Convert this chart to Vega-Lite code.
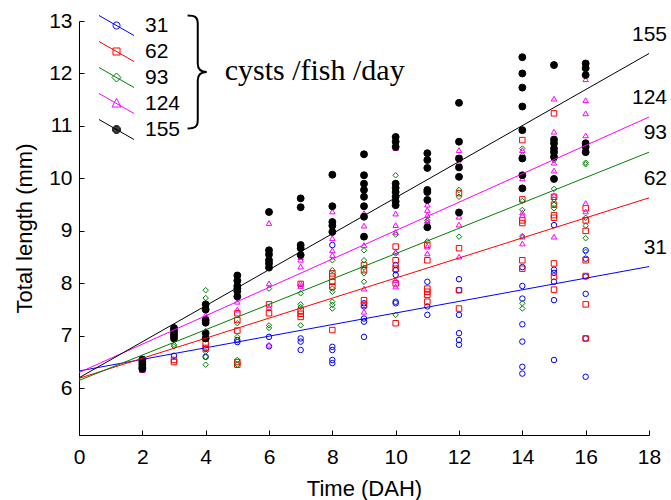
{
  "$schema": "https://vega.github.io/schema/vega-lite/v6.json",
  "width": 570,
  "height": 414,
  "autosize": "none",
  "padding": {"left": 79, "top": 21, "right": 22, "bottom": 65},
  "background": "white",
  "config": {
    "view": {"stroke": null},
    "font": "Liberation Sans",
    "axis": {
      "grid": false,
      "domainColor": "black",
      "tickColor": "black",
      "labelColor": "black",
      "titleColor": "black",
      "labelFont": "Liberation Sans",
      "titleFont": "Liberation Sans",
      "labelFontSize": 21,
      "titleFontSize": 22,
      "titleFontWeight": "normal",
      "tickSize": -5,
      "domainWidth": 1,
      "tickWidth": 1
    }
  },
  "datasets": {
    "fits": [
      {"day": 0, "len": 6.33, "group": "31"}, {"day": 18, "len": 8.32, "group": "31"},
      {"day": 0, "len": 6.19, "group": "62"}, {"day": 18, "len": 9.63, "group": "62"},
      {"day": 0, "len": 6.15, "group": "93"}, {"day": 18, "len": 10.5, "group": "93"},
      {"day": 0, "len": 6.30, "group": "124"}, {"day": 18, "len": 11.17, "group": "124"},
      {"day": 0, "len": 6.20, "group": "155"}, {"day": 18, "len": 12.38, "group": "155"}
    ],
    "pts": [
      {"day":2,"len":6.38,"group":"31"},
      {"day":3,"len":6.62,"group":"31"},
      {"day":4,"len":6.6,"group":"31"},{"day":4,"len":6.75,"group":"31"},
      {"day":5,"len":6.92,"group":"31"},{"day":5,"len":6.88,"group":"31"},
      {"day":6,"len":6.98,"group":"31"},{"day":6,"len":6.8,"group":"31"},
      {"day":7,"len":6.95,"group":"31"},{"day":7,"len":6.89,"group":"31"},{"day":7,"len":6.73,"group":"31"},
      {"day":8,"len":8.73,"group":"31"},{"day":8,"len":6.79,"group":"31"},{"day":8,"len":6.73,"group":"31"},{"day":8,"len":6.54,"group":"31"},{"day":8,"len":6.48,"group":"31"},
      {"day":9,"len":7.62,"group":"31"},{"day":9,"len":7.56,"group":"31"},{"day":9,"len":7.33,"group":"31"},{"day":9,"len":7.27,"group":"31"},{"day":9,"len":6.98,"group":"31"},
      {"day":10,"len":8.35,"group":"31"},{"day":10,"len":8.25,"group":"31"},{"day":10,"len":8.16,"group":"31"},{"day":10,"len":7.65,"group":"31"},{"day":10,"len":7.62,"group":"31"},
      {"day":11,"len":8.03,"group":"31"},{"day":11,"len":7.56,"group":"31"},{"day":11,"len":7.4,"group":"31"},
      {"day":12,"len":8.08,"group":"31"},{"day":12,"len":7.87,"group":"31"},{"day":12,"len":7.4,"group":"31"},{"day":12,"len":7.05,"group":"31"},{"day":12,"len":6.92,"group":"31"},{"day":12,"len":6.83,"group":"31"},
      {"day":14,"len":8.31,"group":"31"},{"day":14,"len":7.95,"group":"31"},{"day":14,"len":7.71,"group":"31"},{"day":14,"len":7.22,"group":"31"},{"day":14,"len":6.89,"group":"31"},{"day":14,"len":6.41,"group":"31"},{"day":14,"len":6.28,"group":"31"},
      {"day":15,"len":9.11,"group":"31"},{"day":15,"len":8.26,"group":"31"},{"day":15,"len":8.2,"group":"31"},{"day":15,"len":8.03,"group":"31"},{"day":15,"len":7.68,"group":"31"},{"day":15,"len":6.54,"group":"31"},
      {"day":16,"len":8.63,"group":"31"},{"day":16,"len":8.47,"group":"31"},{"day":16,"len":8.13,"group":"31"},{"day":16,"len":7.8,"group":"31"},{"day":16,"len":6.95,"group":"31"},{"day":16,"len":6.22,"group":"31"},

      {"day":2,"len":6.36,"group":"62"},{"day":2,"len":6.4,"group":"62"},
      {"day":3,"len":6.54,"group":"62"},{"day":3,"len":6.5,"group":"62"},
      {"day":4,"len":6.95,"group":"62"},{"day":4,"len":6.85,"group":"62"},{"day":4,"len":6.77,"group":"62"},
      {"day":5,"len":7.43,"group":"62"},{"day":5,"len":7.3,"group":"62"},{"day":5,"len":7.1,"group":"62"},{"day":5,"len":6.5,"group":"62"},{"day":5,"len":6.45,"group":"62"},
      {"day":6,"len":7.43,"group":"62"},{"day":6,"len":7.6,"group":"62"},
      {"day":7,"len":7.99,"group":"62"},{"day":7,"len":7.48,"group":"62"},{"day":7,"len":7.42,"group":"62"},{"day":7,"len":7.36,"group":"62"},
      {"day":8,"len":8.19,"group":"62"},{"day":8,"len":8.13,"group":"62"},{"day":8,"len":8.03,"group":"62"},{"day":8,"len":7.94,"group":"62"},{"day":8,"len":7.11,"group":"62"},
      {"day":9,"len":8.35,"group":"62"},{"day":9,"len":8.25,"group":"62"},{"day":9,"len":7.68,"group":"62"},{"day":9,"len":7.59,"group":"62"},
      {"day":10,"len":8.7,"group":"62"},{"day":10,"len":8.44,"group":"62"},{"day":10,"len":8.28,"group":"62"},{"day":10,"len":8.0,"group":"62"},{"day":10,"len":7.24,"group":"62"},
      {"day":11,"len":8.73,"group":"62"},{"day":11,"len":8.44,"group":"62"},{"day":11,"len":7.9,"group":"62"},{"day":11,"len":7.84,"group":"62"},{"day":11,"len":7.78,"group":"62"},{"day":11,"len":7.65,"group":"62"},
      {"day":12,"len":10.38,"group":"62"},{"day":12,"len":9.72,"group":"62"},{"day":12,"len":8.67,"group":"62"},{"day":12,"len":7.87,"group":"62"},{"day":12,"len":7.52,"group":"62"},
      {"day":14,"len":10.73,"group":"62"},{"day":14,"len":9.6,"group":"62"},{"day":14,"len":9.2,"group":"62"},{"day":14,"len":9.15,"group":"62"},{"day":14,"len":8.44,"group":"62"},{"day":14,"len":8.28,"group":"62"},
      {"day":15,"len":11.24,"group":"62"},{"day":15,"len":9.65,"group":"62"},{"day":15,"len":9.5,"group":"62"},{"day":15,"len":9.3,"group":"62"},{"day":15,"len":9.25,"group":"62"},{"day":15,"len":8.38,"group":"62"},{"day":15,"len":8.13,"group":"62"},{"day":15,"len":7.88,"group":"62"},
      {"day":16,"len":9.43,"group":"62"},{"day":16,"len":9.2,"group":"62"},{"day":16,"len":9.0,"group":"62"},{"day":16,"len":8.44,"group":"62"},{"day":16,"len":8.14,"group":"62"},{"day":16,"len":7.6,"group":"62"},{"day":16,"len":6.95,"group":"62"},

      {"day":2,"len":6.42,"group":"93"},{"day":2,"len":6.38,"group":"93"},
      {"day":3,"len":6.83,"group":"93"},{"day":3,"len":6.8,"group":"93"},
      {"day":4,"len":7.87,"group":"93"},{"day":4,"len":7.72,"group":"93"},{"day":4,"len":6.7,"group":"93"},{"day":4,"len":6.6,"group":"93"},{"day":4,"len":6.45,"group":"93"},
      {"day":5,"len":7.24,"group":"93"},{"day":5,"len":6.98,"group":"93"},{"day":5,"len":6.54,"group":"93"},{"day":5,"len":6.45,"group":"93"},
      {"day":6,"len":7.9,"group":"93"},{"day":6,"len":7.2,"group":"93"},{"day":6,"len":7.15,"group":"93"},
      {"day":7,"len":7.81,"group":"93"},{"day":7,"len":7.6,"group":"93"},{"day":7,"len":7.55,"group":"93"},{"day":7,"len":7.2,"group":"93"},
      {"day":8,"len":8.44,"group":"93"},{"day":8,"len":8.25,"group":"93"},{"day":8,"len":7.9,"group":"93"},{"day":8,"len":7.84,"group":"93"},{"day":8,"len":7.65,"group":"93"},{"day":8,"len":7.59,"group":"93"},{"day":8,"len":7.52,"group":"93"},
      {"day":9,"len":8.63,"group":"93"},{"day":9,"len":8.44,"group":"93"},{"day":9,"len":8.3,"group":"93"},{"day":9,"len":8.19,"group":"93"},{"day":9,"len":8.03,"group":"93"},
      {"day":10,"len":10.06,"group":"93"},{"day":10,"len":8.93,"group":"93"},{"day":10,"len":8.57,"group":"93"},{"day":10,"len":7.4,"group":"93"},
      {"day":11,"len":9.2,"group":"93"},{"day":11,"len":9.15,"group":"93"},{"day":11,"len":8.8,"group":"93"},
      {"day":12,"len":9.78,"group":"93"},{"day":12,"len":9.65,"group":"93"},{"day":12,"len":8.89,"group":"93"},
      {"day":14,"len":10.57,"group":"93"},{"day":14,"len":10.44,"group":"93"},{"day":14,"len":9.57,"group":"93"},{"day":14,"len":9.4,"group":"93"},{"day":14,"len":8.9,"group":"93"},{"day":14,"len":7.62,"group":"93"},{"day":14,"len":7.52,"group":"93"},
      {"day":15,"len":10.35,"group":"93"},{"day":15,"len":9.8,"group":"93"},{"day":15,"len":9.6,"group":"93"},{"day":15,"len":9.5,"group":"93"},{"day":15,"len":9.43,"group":"93"},
      {"day":16,"len":10.3,"group":"93"},{"day":16,"len":10.27,"group":"93"},{"day":16,"len":9.25,"group":"93"},{"day":16,"len":9.1,"group":"93"},{"day":16,"len":8.86,"group":"93"},{"day":16,"len":8.6,"group":"93"},

      {"day":2,"len":6.35,"group":"124"},{"day":2,"len":6.4,"group":"124"},
      {"day":3,"len":7.0,"group":"124"},{"day":3,"len":6.95,"group":"124"},
      {"day":4,"len":7.4,"group":"124"},{"day":4,"len":7.35,"group":"124"},{"day":4,"len":7.1,"group":"124"},
      {"day":5,"len":7.65,"group":"124"},{"day":5,"len":7.5,"group":"124"},
      {"day":6,"len":9.15,"group":"124"},{"day":6,"len":8.0,"group":"124"},{"day":6,"len":7.55,"group":"124"},{"day":6,"len":6.83,"group":"124"},
      {"day":7,"len":8.5,"group":"124"},{"day":7,"len":8.45,"group":"124"},{"day":7,"len":8.32,"group":"124"},{"day":7,"len":8.0,"group":"124"},{"day":7,"len":7.95,"group":"124"},
      {"day":8,"len":9.37,"group":"124"},{"day":8,"len":8.86,"group":"124"},{"day":8,"len":8.63,"group":"124"},{"day":8,"len":8.54,"group":"124"},
      {"day":9,"len":9.91,"group":"124"},{"day":9,"len":9.34,"group":"124"},{"day":9,"len":9.1,"group":"124"},{"day":9,"len":8.73,"group":"124"},{"day":9,"len":7.9,"group":"124"},{"day":9,"len":7.46,"group":"124"},
      {"day":10,"len":10.58,"group":"124"},{"day":10,"len":9.33,"group":"124"},{"day":10,"len":9.11,"group":"124"},{"day":10,"len":8.98,"group":"124"},{"day":10,"len":8.6,"group":"124"},{"day":10,"len":8.06,"group":"124"},{"day":10,"len":7.94,"group":"124"},
      {"day":11,"len":9.5,"group":"124"},{"day":11,"len":9.4,"group":"124"},{"day":11,"len":9.3,"group":"124"},{"day":11,"len":9.2,"group":"124"},{"day":11,"len":8.7,"group":"124"},{"day":11,"len":8.57,"group":"124"},
      {"day":12,"len":10.54,"group":"124"},{"day":12,"len":10.3,"group":"124"},{"day":12,"len":9.27,"group":"124"},{"day":12,"len":9.12,"group":"124"},{"day":12,"len":8.51,"group":"124"},
      {"day":14,"len":10.92,"group":"124"},{"day":14,"len":10.54,"group":"124"},{"day":14,"len":10.4,"group":"124"},{"day":14,"len":10.0,"group":"124"},{"day":14,"len":9.35,"group":"124"},{"day":14,"len":9.3,"group":"124"},{"day":14,"len":8.89,"group":"124"},{"day":14,"len":8.76,"group":"124"},
      {"day":15,"len":11.52,"group":"124"},{"day":15,"len":10.89,"group":"124"},{"day":15,"len":10.3,"group":"124"},{"day":15,"len":10.15,"group":"124"},{"day":15,"len":9.68,"group":"124"},{"day":15,"len":8.89,"group":"124"},
      {"day":16,"len":11.89,"group":"124"},{"day":16,"len":11.49,"group":"124"},{"day":16,"len":11.24,"group":"124"},{"day":16,"len":10.82,"group":"124"},{"day":16,"len":9.53,"group":"124"},{"day":16,"len":9.37,"group":"124"},

      {"day":2,"len":6.55,"group":"155"},{"day":2,"len":6.5,"group":"155"},{"day":2,"len":6.45,"group":"155"},{"day":2,"len":6.4,"group":"155"},{"day":2,"len":6.37,"group":"155"},
      {"day":3,"len":7.15,"group":"155"},{"day":3,"len":7.1,"group":"155"},{"day":3,"len":7.05,"group":"155"},{"day":3,"len":7.0,"group":"155"},{"day":3,"len":6.95,"group":"155"},
      {"day":4,"len":7.6,"group":"155"},{"day":4,"len":7.5,"group":"155"},{"day":4,"len":7.3,"group":"155"},{"day":4,"len":7.25,"group":"155"},{"day":4,"len":7.05,"group":"155"},{"day":4,"len":6.95,"group":"155"},
      {"day":5,"len":8.15,"group":"155"},{"day":5,"len":8.05,"group":"155"},{"day":5,"len":7.95,"group":"155"},{"day":5,"len":7.9,"group":"155"},{"day":5,"len":7.85,"group":"155"},{"day":5,"len":7.75,"group":"155"},
      {"day":6,"len":9.36,"group":"155"},{"day":6,"len":8.63,"group":"155"},{"day":6,"len":8.55,"group":"155"},{"day":6,"len":8.44,"group":"155"},{"day":6,"len":8.38,"group":"155"},{"day":6,"len":8.3,"group":"155"},
      {"day":7,"len":9.62,"group":"155"},{"day":7,"len":9.45,"group":"155"},{"day":7,"len":8.73,"group":"155"},{"day":7,"len":8.67,"group":"155"},{"day":7,"len":8.54,"group":"155"},
      {"day":8,"len":10.07,"group":"155"},{"day":8,"len":9.47,"group":"155"},{"day":8,"len":9.17,"group":"155"},{"day":8,"len":9.1,"group":"155"},{"day":8,"len":8.98,"group":"155"},
      {"day":9,"len":10.46,"group":"155"},{"day":9,"len":10.06,"group":"155"},{"day":9,"len":9.9,"group":"155"},{"day":9,"len":9.78,"group":"155"},{"day":9,"len":9.65,"group":"155"},{"day":9,"len":9.47,"group":"155"},{"day":9,"len":9.27,"group":"155"},{"day":9,"len":8.89,"group":"155"},
      {"day":10,"len":10.79,"group":"155"},{"day":10,"len":10.7,"group":"155"},{"day":10,"len":10.6,"group":"155"},{"day":10,"len":9.9,"group":"155"},{"day":10,"len":9.82,"group":"155"},{"day":10,"len":9.74,"group":"155"},{"day":10,"len":9.65,"group":"155"},{"day":10,"len":9.56,"group":"155"},{"day":10,"len":9.49,"group":"155"},
      {"day":11,"len":10.48,"group":"155"},{"day":11,"len":10.35,"group":"155"},{"day":11,"len":10.2,"group":"155"},{"day":11,"len":9.78,"group":"155"},{"day":11,"len":9.74,"group":"155"},{"day":11,"len":9.59,"group":"155"},{"day":11,"len":9.07,"group":"155"},
      {"day":12,"len":11.44,"group":"155"},{"day":12,"len":10.7,"group":"155"},{"day":12,"len":10.38,"group":"155"},{"day":12,"len":10.21,"group":"155"},{"day":12,"len":10.03,"group":"155"},{"day":12,"len":9.35,"group":"155"},
      {"day":14,"len":12.31,"group":"155"},{"day":14,"len":12.0,"group":"155"},{"day":14,"len":11.73,"group":"155"},{"day":14,"len":11.37,"group":"155"},{"day":14,"len":10.92,"group":"155"},{"day":14,"len":10.38,"group":"155"},{"day":14,"len":10.06,"group":"155"},{"day":14,"len":9.81,"group":"155"},
      {"day":15,"len":12.16,"group":"155"},{"day":15,"len":10.74,"group":"155"},{"day":15,"len":10.67,"group":"155"},{"day":15,"len":10.57,"group":"155"},{"day":15,"len":10.5,"group":"155"},{"day":15,"len":10.41,"group":"155"},{"day":15,"len":9.99,"group":"155"},
      {"day":16,"len":12.19,"group":"155"},{"day":16,"len":12.1,"group":"155"},{"day":16,"len":11.97,"group":"155"},{"day":16,"len":10.67,"group":"155"},{"day":16,"len":10.6,"group":"155"},{"day":16,"len":10.5,"group":"155"}
    ]
  },
  "layer": [
    {
      "data": {"name": "pts"},
      "mark": {"type": "point", "filled": false, "strokeWidth": 1, "opacity": 1},
      "encoding": {
        "x": {"field": "day", "type": "quantitative",
              "scale": {"domain": [0, 18], "nice": false, "zero": false},
              "axis": {"title": "Time (DAH)", "values": [0,1,2,3,4,5,6,7,8,9,10,11,12,13,14,15,16,17,18],
                       "labelExpr": "datum.value % 2 === 0 ? datum.label : ''",
                       "labelPadding": 16, "titlePadding": 11, "labelFlush": false}},
        "y": {"field": "len", "type": "quantitative",
              "scale": {"domain": [5.11, 13], "nice": false, "zero": false},
              "axis": {"title": "Total length (mm)", "values": [6,7,8,9,10,11,12,13],
                       "labelPadding": 12, "titlePadding": 12, "labelFlush": false}},
        "color": {"condition": [
                    {"test": "datum.group === '31'", "value": "#0000FF"},
                    {"test": "datum.group === '62'", "value": "#FF0000"},
                    {"test": "datum.group === '93'", "value": "#008000"},
                    {"test": "datum.group === '124'", "value": "#FF00FF"}
                  ], "value": "#000000"},
        "shape": {"condition": [
                    {"test": "datum.group === '62'", "value": "square"},
                    {"test": "datum.group === '93'", "value": "diamond"},
                    {"test": "datum.group === '124'", "value": "triangle-up"}
                  ], "value": "circle"},
        "fill": {"condition": {"test": "datum.group === '155'", "value": "#000000"}, "value": "transparent"},
        "size": {"condition": {"test": "datum.group === '155'", "value": 48}, "value": 30}
      }
    },
    {
      "data": {"name": "fits"},
      "mark": {"type": "line", "strokeWidth": 1},
      "encoding": {
        "x": {"field": "day", "type": "quantitative"},
        "y": {"field": "len", "type": "quantitative"},
        "detail": {"field": "group"},
        "color": {"condition": [
                    {"test": "datum.group === '31'", "value": "#0000FF"},
                    {"test": "datum.group === '62'", "value": "#FF0000"},
                    {"test": "datum.group === '93'", "value": "#008000"},
                    {"test": "datum.group === '124'", "value": "#FF00FF"}
                  ], "value": "#000000"}
      }
    },
    {
      "data": {"name": "fits"},
      "transform": [{"filter": "datum.day === 18"}],
      "mark": {"type": "text", "align": "right", "baseline": "middle", "dx": 18, "dy": -19, "fontSize": 21, "font": "Liberation Sans", "color": "black"},
      "encoding": {
        "x": {"field": "day", "type": "quantitative"},
        "y": {"field": "len", "type": "quantitative"},
        "text": {"field": "group"}
      }
    },
    {
      "data": {"name": "fits"},
      "transform": [{"filter": "false"}],
      "mark": {"type": "point", "filled": false, "size": 100, "strokeWidth": 1, "opacity": 1},
      "encoding": {
        "color": {"field": "group", "type": "nominal",
                  "scale": {"domain": ["31","62","93","124","155"], "range": ["#0000FF","#FF0000","#008000","#FF00FF","#000000"]},
                  "legend": {"title": null, "orient": "none", "legendX": 27, "legendY": -6, "padding": 0,
                             "labelFont": "Liberation Sans", "labelFontSize": 21, "labelColor": "black",
                             "labelOffset": 18, "rowPadding": 1, "symbolStrokeWidth": 1, "symbolSize": 100, "symbolOpacity": 1}},
        "shape": {"field": "group", "type": "nominal",
                  "scale": {"domain": ["31","62","93","124","155"],
                            "range": [
                              "M-3.5,-2L3.5,2M0.7,0A0.7,0.7,0,1,1,-0.7,0A0.7,0.7,0,1,1,0.7,0Z",
                              "M-3.5,-2L3.5,2M-0.7,-0.7L0.7,-0.7L0.7,0.7L-0.7,0.7Z",
                              "M-3.5,-2L3.5,2M0,-0.9L0.9,0L0,0.9L-0.9,0Z",
                              "M-3.5,-2L3.5,2M0,-1L0.9,0.7L-0.9,0.7Z",
                              "M-3.5,-2L3.5,2M0.8,0A0.8,0.8,0,1,1,-0.8,0A0.8,0.8,0,1,1,0.8,0ZM0.65,0A0.65,0.65,0,1,1,-0.65,0A0.65,0.65,0,1,1,0.65,0ZM0.5,0A0.5,0.5,0,1,1,-0.5,0A0.5,0.5,0,1,1,0.5,0ZM0.35,0A0.35,0.35,0,1,1,-0.35,0A0.35,0.35,0,1,1,0.35,0ZM0.2,0A0.2,0.2,0,1,1,-0.2,0A0.2,0.2,0,1,1,0.2,0ZM0.08,0A0.08,0.08,0,1,1,-0.08,0A0.08,0.08,0,1,1,0.08,0Z"
                            ]},
                  "legend": {"title": null, "orient": "none", "legendX": 27, "legendY": -6, "padding": 0,
                             "labelFont": "Liberation Sans", "labelFontSize": 21, "labelColor": "black",
                             "labelOffset": 18, "rowPadding": 1, "symbolStrokeWidth": 1, "symbolSize": 100, "symbolOpacity": 1}}
      }
    },
    {
      "data": {"values": [{}]},
      "mark": {"type": "point", "filled": false, "stroke": "black", "strokeWidth": 2, "size": 12769, "opacity": 1,
               "shape": "M-0.18,-1C-0.05,-1,0,-0.97,0,-0.85L0,-0.15C0,-0.05,0.05,0,0.16,0C0.05,0,0,0.05,0,0.15L0,0.85C0,0.97,-0.05,1,-0.18,1"},
      "encoding": {
        "x": {"datum": 3.75, "type": "quantitative"},
        "y": {"datum": 12.03, "type": "quantitative"}
      }
    },
    {
      "data": {"values": [{}]},
      "mark": {"type": "text", "text": "cysts /fish /day", "font": "Liberation Serif", "fontSize": 30, "align": "left", "baseline": "alphabetic", "color": "black"},
      "encoding": {
        "x": {"datum": 4.6, "type": "quantitative"},
        "y": {"datum": 11.87, "type": "quantitative"}
      }
    }
  ]
}
